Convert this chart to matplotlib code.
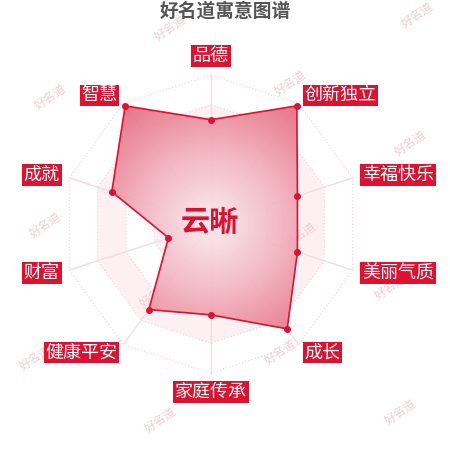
import numpy as np
import matplotlib.pyplot as plt
from matplotlib.patches import Polygon

plt.rcParams['font.family'] = ['Noto Sans CJK SC', 'DejaVu Sans']

title = "好名道寓意图谱"
name = "云晰"
dims = ["品德", "创新独立", "幸福快乐", "美丽气质", "成长",
        "家庭传承", "健康平安", "财富", "成就", "智慧"]
vals = [70, 98, 61, 61, 87, 61, 71, 30, 70, 98]
vmax = 100
watermark = "好名道"
wm_pos = [(170, 28), (417, 15), (50, 97), (290, 83), (410, 143), (45, 225),
          (300, 235), (390, 287), (155, 295), (280, 352), (35, 358),
          (160, 420), (400, 412)]

red = "#e0102f"
cx, cy, R = 211, 224, 149
n = len(dims)
ang = np.deg2rad(90 - 36 * np.arange(n))

fig = plt.figure(figsize=(4.5, 4.5), dpi=100)
ax = fig.add_axes([0, 0, 1, 1])
ax.set_xlim(0, 450)
ax.set_ylim(450, 0)
ax.set_aspect("equal")
ax.axis("off")

# split areas (alternating rings)
for i in range(5, 0, -1):
    r = R * i / 5
    pts = np.c_[cx + r * np.cos(ang), cy - r * np.sin(ang)]
    fc = "#fcf0f2" if i in (2, 4) else "white"
    ax.add_patch(Polygon(pts, closed=True, fc=fc, ec="#ecd3d8", lw=0.8,
                         ls=(0, (1, 2)), zorder=1))

# axis lines
for a in ang:
    ax.plot([cx, cx + R * np.cos(a)], [cy, cy - R * np.sin(a)],
            color="#f3dde1", lw=1, zorder=2)

# watermarks
for x, y in wm_pos:
    ax.text(x, y, watermark, fontsize=8.5, color="#f0cdd3", rotation=35,
            ha="center", va="center", zorder=1.5)

# data polygon with radial gradient fill
v = np.array(vals) / vmax
px = cx + R * v * np.cos(ang)
py = cy - R * v * np.sin(ang)
poly = Polygon(np.c_[px, py], closed=True, fc="none", ec=red, lw=1.2, zorder=4)
ax.add_patch(poly)

gx, gy = np.meshgrid(np.linspace(0, 450, 451), np.linspace(0, 450, 451))
rr = np.clip(np.hypot(gx - cx, gy - cy) / R, 0, 1)
c0 = np.array([251, 232, 236]) / 255
c1 = np.array([229, 100, 122]) / 255
img = c0 + (c1 - c0) * (rr[..., None] ** 1.2)
im = ax.imshow(img, extent=(0, 450, 450, 0), zorder=3, alpha=0.92)
clip = Polygon(np.c_[px, py], closed=True, transform=ax.transData)
im.set_clip_path(clip)

ax.plot(px, py, "o", color=red, ms=4, zorder=5)

# axis names
for d, a in zip(dims, ang):
    c, s = np.cos(a), np.sin(a)
    rl = R + 10
    x, y = cx + rl * c, cy - rl * s
    ha = "left" if c > 0.01 else ("right" if c < -0.01 else "center")
    va = "center"
    if abs(c) < 0.01:
        va = "bottom" if s > 0 else "top"
    ax.text(x, y, d, fontsize=13, color="white", ha=ha, va=va, zorder=6,
            bbox=dict(boxstyle="square,pad=0.1", fc=red, ec="none"))

ax.text(210, 222, name, fontsize=21, fontweight="bold", color=red,
        ha="center", va="center", zorder=6)
ax.text(225, 11, title, fontsize=13.5, fontweight="bold", color="#555555",
        ha="center", va="center", zorder=6)

fig.savefig("out.png", dpi=100)
